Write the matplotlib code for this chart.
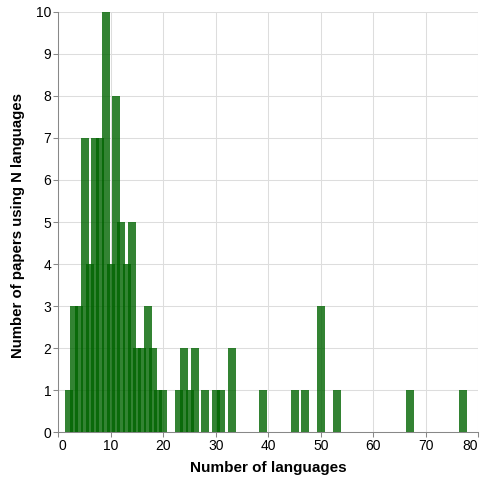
import matplotlib
matplotlib.use("Agg")
import matplotlib.pyplot as plt

plt.rcParams['font.family'] = ['Liberation Sans', 'DejaVu Sans']

languages = [2, 3, 4, 5, 6, 7, 8, 9, 10, 11, 12, 13, 14, 15, 16, 17, 18, 19, 20,
             23, 24, 25, 26, 28, 30, 31, 33, 39, 45, 47, 50, 53, 67, 77]
papers = [1, 3, 3, 7, 4, 7, 7, 10, 4, 8, 5, 4, 5, 2, 2, 3, 2, 1, 1,
          1, 2, 1, 2, 1, 1, 1, 2, 1, 1, 1, 3, 1, 1, 1]
x_ticks = [0, 10, 20, 30, 40, 50, 60, 70, 80]
y_ticks = [0, 1, 2, 3, 4, 5, 6, 7, 8, 9, 10]

W, H = 481, 479
fig = plt.figure(figsize=(W / 100, H / 100), dpi=100)
ax = fig.add_axes([58.3 / W, (H - 432.3) / H, 420 / W, 420.6 / H])

ax.bar(languages, papers, width=1.52, color='#006400', alpha=0.8,
       linewidth=0, zorder=3)

ax.set_xlim(0, 80)
ax.set_ylim(0, 10)
ax.set_xticks(x_ticks)
ax.set_yticks(y_ticks)
ax.grid(True, color='#dddddd', linewidth=0.75, zorder=0)
ax.set_axisbelow(True)
for s in ['top', 'right']:
    ax.spines[s].set_visible(False)
for s in ['left', 'bottom']:
    ax.spines[s].set_color('#888888')
    ax.spines[s].set_linewidth(0.75)
ax.tick_params(axis='both', colors='#888888', length=3.6, width=0.75,
               labelsize=10, labelcolor='#000000', pad=1.5)
xl = ax.get_xticklabels()
xl[0].set_ha('left')
xl[-1].set_ha('right')

fig.text(268 / W, 11 / H, 'Number of languages', ha='center', va='center',
         fontsize=11, fontweight='bold')
fig.text(18 / W, 1 - 225.5 / H, 'Number of papers using N languages',
         ha='center', va='center', rotation=90, fontsize=10.8, fontweight='bold')

fig.savefig('out.png', dpi=100)
